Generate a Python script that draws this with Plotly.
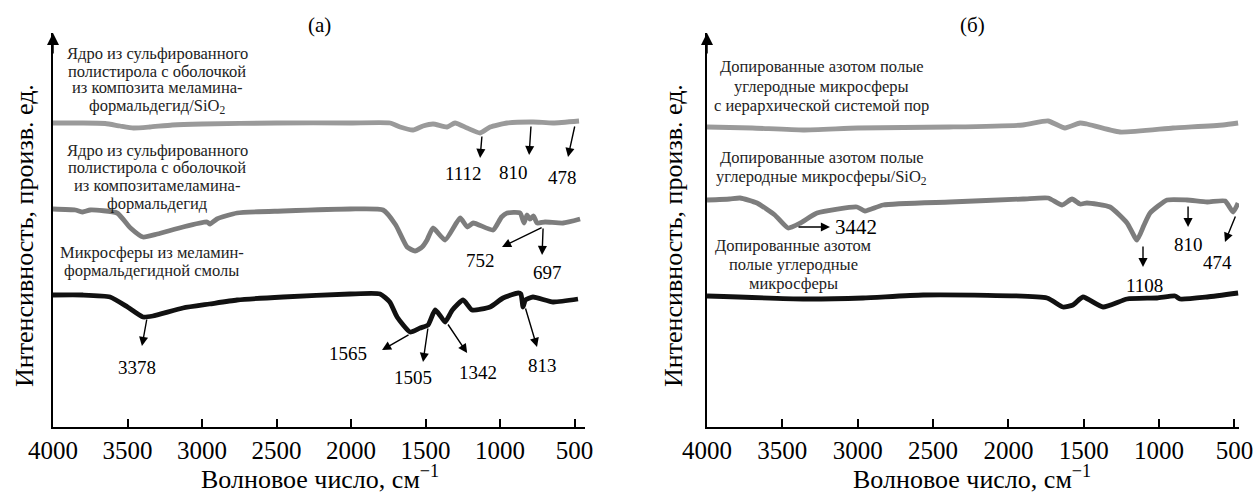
import plotly.graph_objects as go

W, H = 1254, 492

# ---------------- data ----------------
# Panel (a)
a1_wn = [4000, 3800, 3650, 3550, 3460, 3350, 3200, 3000, 2500, 2000, 1738, 1671, 1584, 1517, 1450, 1356, 1302, 1221, 1134, 1067, 953, 779, 644, 470]
a1_y  = [304, 304, 303.5, 301, 299, 300, 302, 303, 304, 304, 304, 300, 297, 301, 303, 300, 304, 299, 294, 300, 304, 305, 304, 306]

a2_wn = [4000, 3850, 3800, 3750, 3570, 3480, 3396, 3300, 3128, 2966, 2946, 2900, 2765, 2456, 2007, 1785, 1700, 1624, 1570, 1523, 1490, 1450, 1369, 1268, 1220, 1180, 1047, 990, 953, 866, 839, 820, 799, 775, 752, 698, 577, 463]
a2_y  = [218, 217, 215, 217, 214, 199, 190, 193, 200, 205, 203, 208, 214, 216, 218, 217, 202, 180, 176, 180, 187, 199, 187, 209, 200, 204, 197, 210, 214, 214, 204, 212, 208, 211, 204, 205, 204, 208]

a3_wn = [4000, 3800, 3617, 3500, 3396, 3330, 3128, 2950, 2765, 2456, 2007, 1805, 1740, 1691, 1604, 1537, 1483, 1436, 1400, 1369, 1320, 1248, 1188, 1067, 980, 879, 860, 846, 830, 779, 644, 477]
a3_y  = [132, 132, 130, 120, 110, 111, 119, 123, 127, 130, 133, 133, 125, 110, 95, 99, 102, 117, 111, 105, 117, 127, 117, 120, 129, 134, 133, 120, 127, 130, 125, 128]

# Panel (б)
b1_wn = [4000, 3700, 3363, 3000, 2393, 1904, 1737, 1625, 1525, 1479, 1260, 908, 576, 476]
b1_y  = [300, 299, 297, 299, 300, 302, 306, 299, 304, 303, 295, 299, 302, 304]

b2_wn = [4000, 3850, 3781, 3668, 3550, 3462, 3380, 3270, 3005, 2952, 2832, 2387, 1903, 1737, 1644, 1578, 1525, 1479, 1326, 1213, 1147, 1100, 1060, 947, 815, 681, 562, 509, 476]
b2_y  = [227, 228, 229, 224, 212, 199, 204, 214, 220, 216, 222, 225, 228, 229, 222, 228, 223, 224, 220, 204, 187, 202, 214, 227, 227, 225, 226, 215, 224]

b3_wn = [4000, 3363, 2965, 2566, 1744, 1638, 1572, 1505, 1372, 1213, 1014, 894, 861, 681, 476]
b3_y  = [131, 128, 129, 132, 129, 120, 122, 130, 120, 128, 129, 131, 128, 130, 134]

tick_vals = [4000, 3500, 3000, 2500, 2000, 1500, 1000, 500]
tick_text = ["4000", "3500", "3000", "2500", "2000", "1500", "1000", "500"]

# peak labels: (text, label_wn, label_y, tail_wn, tail_y, head_wn, head_y)
peaks_a = [
    ("1112", 1248, 254, 1121, 292, 1134, 269),
    ("810", 913, 255, 792, 302, 805, 272),
    ("478", 584, 250, 497, 302, 544, 270),
    ("752", 1134, 167, 711, 200, 987, 180),
    ("697", 685, 155, 711, 200, 718, 172),
    ("3378", 3436, 60, 3369, 109, 3403, 81),
    ("1565", 2020, 74, 1604, 93, 1792, 77),
    ("1505", 1584, 50, 1483, 100, 1517, 65),
    ("1342", 1148, 55, 1356, 104, 1221, 74),
    ("813", 718, 62, 832, 120, 752, 80),
]
peaks_b = [
    ("1108", 1100, 142, 1107, 182, 1107, 160),
    ("810", 808, 183, 808, 222, 808, 200),
    ("474", 616, 165, 490, 212, 563, 185),
]

labels_a = [
    (["Ядро из сульфированного", "полистирола с оболочкой", "из композита меламина-", "формальдегид/SiO<sub>2</sub>"], 3302, [374, 356, 340, 321]),
    (["Ядро из сульфированного", "полистирола с оболочкой", "из композитамеламина-", "формальдегид"], 3302, [277, 260, 242, 224]),
    (["Микросферы из меламин-", "формальдегидной смолы"], 3336, [175, 157]),
]
labels_b = [
    (["Допированные азотом полые", "углеродные микросферы", "с иерархической системой пор"], 3237, [361, 341, 322]),
    (["Допированные азотом полые", "углеродные микросферы/SiO<sub>2</sub>"], 3237, [270, 250]),
    (["Допированные азотом", "полые углеродные", "микросферы"], 3429, [182, 163, 144]),
]

# ---------------- figure ----------------
FONT = "Liberation Serif"
fig = go.Figure()

def add_line(xs, ys, color, xa, ya):
    fig.add_trace(go.Scatter(x=xs, y=ys, mode="lines", xaxis=xa, yaxis=ya,
                             line=dict(color=color, width=4.8, shape="spline", smoothing=0.5),
                             showlegend=False, hoverinfo="skip"))

add_line(a1_wn, a1_y, "#9a9a9a", "x", "y")
add_line(a2_wn, a2_y, "#7d7d7d", "x", "y")
add_line(a3_wn, a3_y, "#111111", "x", "y")
add_line(b1_wn, b1_y, "#9a9a9a", "x2", "y2")
add_line(b2_wn, b2_y, "#7d7d7d", "x2", "y2")
add_line(b3_wn, b3_y, "#111111", "x2", "y2")

ydom = [1 - 427 / H, 1 - 33 / H]
axis_common = dict(showgrid=False, zeroline=False, showline=True, linecolor="black", linewidth=1.5,
                   ticks="inside", ticklen=8, tickwidth=1.5, tickcolor="black",
                   tickvals=tick_vals, ticktext=tick_text, automargin=False,
                   tickfont=dict(family=FONT, size=25, color="black"))
yaxis_common = dict(showgrid=False, zeroline=False, showline=True, linecolor="black", linewidth=1.5,
                    showticklabels=False, ticks="", range=[0, 394], domain=ydom, automargin=False)

fig.update_layout(
    width=W, height=H, margin=dict(l=0, r=0, t=0, b=0, autoexpand=False),
    paper_bgcolor="white", plot_bgcolor="white",
    xaxis=dict(domain=[53 / W, 585 / W], range=[4000, 430], anchor="y", **axis_common),
    xaxis2=dict(domain=[707 / W, 1239 / W], range=[4000, 470], anchor="y2", **axis_common),
    yaxis=dict(anchor="x", **yaxis_common),
    yaxis2=dict(anchor="x2", **yaxis_common),
)

ann = []
def px(x): return x / W
def py(y): return 1 - y / H

for xr, yr, xtop in (("x", "y", 4000), ("x2", "y2", 4000)):
    # y-axis arrow head
    ann.append(dict(x=xtop, y=394, ax=xtop, ay=372, xref=xr, yref=yr, axref=xr, ayref=yr,
                    text="", showarrow=True, arrowhead=2, arrowsize=1.6, arrowwidth=1.5,
                    arrowcolor="black", standoff=0, startstandoff=0))

def add_peaks(peaks, xr, yr, fs=19):
    for t, lx, ly, tx, ty, hx, hy in peaks:
        ann.append(dict(x=hx, y=hy, ax=tx, ay=ty, xref=xr, yref=yr, axref=xr, ayref=yr,
                        text="", showarrow=True, arrowhead=2, arrowsize=1.3, arrowwidth=1.4,
                        arrowcolor="black", standoff=0, startstandoff=0))
        ann.append(dict(x=lx, y=ly, xref=xr, yref=yr, text=t, showarrow=False,
                        font=dict(family=FONT, size=fs, color="black"),
                        xanchor="center", yanchor="middle"))

add_peaks(peaks_a, "x", "y")
add_peaks(peaks_b, "x2", "y2")

# 3442 with horizontal arrow
ann.append(dict(x=3184, y=200, ax=3403, ay=200, xref="x2", yref="y2", axref="x2", ayref="y2",
                text="", showarrow=True, arrowhead=2, arrowsize=1.3, arrowwidth=1.4,
                arrowcolor="black", standoff=0, startstandoff=0))
ann.append(dict(x=3164, y=200, xref="x2", yref="y2", text="3442", showarrow=False,
                font=dict(family=FONT, size=21, color="black"), xanchor="left", yanchor="middle"))

def add_labels(labels, xr, yr):
    for lines, cx, ys in labels:
        for line, yy in zip(lines, ys):
            ann.append(dict(x=cx, y=yy, xref=xr, yref=yr, text=line, showarrow=False,
                            font=dict(family=FONT, size=16.5, color="#222222"),
                            xanchor="center", yanchor="middle"))

add_labels(labels_a, "x", "y")
add_labels(labels_b, "x2", "y2")

# panel titles
ann.append(dict(x=px(319), y=py(25), xref="paper", yref="paper", text="(a)", showarrow=False,
                font=dict(family=FONT, size=21, color="black"), xanchor="center", yanchor="middle"))
ann.append(dict(x=px(972), y=py(25), xref="paper", yref="paper", text="(б)", showarrow=False,
                font=dict(family=FONT, size=21, color="black"), xanchor="center", yanchor="middle"))

# axis titles
for cx in (320, 972):
    ann.append(dict(x=px(cx), y=py(477), xref="paper", yref="paper",
                    text="Волновое число, см<sup>−1</sup>", showarrow=False,
                    font=dict(family=FONT, size=26, color="black"), xanchor="center", yanchor="middle"))
for cx in (24, 673):
    ann.append(dict(x=px(cx), y=py(236), xref="paper", yref="paper",
                    text="Интенсивность, произв. ед.", showarrow=False, textangle=-90,
                    font=dict(family=FONT, size=26, color="black"), xanchor="center", yanchor="middle"))

fig.update_layout(annotations=ann)
fig.write_html("out.html")
